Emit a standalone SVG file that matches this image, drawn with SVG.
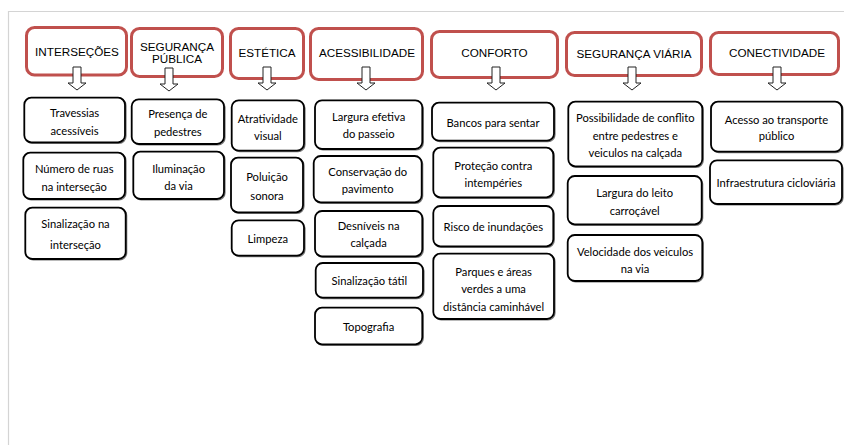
<svg xmlns="http://www.w3.org/2000/svg" xmlns:xlink="http://www.w3.org/1999/xlink" width="844" height="445" viewBox="0 0 844 445">
<style>
.hdr{fill:#fff;stroke:#c0504d;stroke-width:3}
.box{fill:#fff;stroke:#000;stroke-width:1.8}
.shd{fill:none;stroke:#777;stroke-width:1.2}
.ht{font-family:"Liberation Sans",Arial,sans-serif;font-size:11.7px;fill:#000;text-anchor:middle}
.bt{font-family:"Lato","Liberation Sans",sans-serif;font-size:11.2px;fill:#000;text-anchor:middle}
.arr{fill:#fff;stroke:#222;stroke-width:1}
.frame{stroke:#d4d4d4;stroke-width:1.2;fill:none}
</style>
<defs>
<path id="arrow" class="arr" d="M-4,67 H4 V83 H9 L0,90 L-9,83 H-4 Z"/>
</defs>
<rect width="844" height="445" fill="#fff"/>
<path class="frame" d="M8.5,445 V11.5 H844"/>

<g id="h-intersecoes"><rect class="hdr" x="26.5" y="27.5" width="100" height="47.5" rx="8"/><text class="ht" x="77" y="56">INTERSEÇÕES</text></g>
<g id="h-seguranca-publica"><rect class="hdr" x="131.5" y="28.5" width="91" height="48" rx="8"/><text class="ht" x="177" y="51">SEGURANÇA</text><text class="ht" x="177" y="63">PÚBLICA</text></g>
<g id="h-estetica"><rect class="hdr" x="230.5" y="28.5" width="73" height="50" rx="8"/><text class="ht" x="267" y="57">ESTÉTICA</text></g>
<g id="h-acessibilidade"><rect class="hdr" x="310.5" y="28.5" width="112" height="51" rx="8"/><text class="ht" x="367" y="57">ACESSIBILIDADE</text></g>
<g id="h-conforto"><rect class="hdr" x="431.5" y="31.5" width="126" height="46" rx="8"/><text class="ht" x="494.5" y="57">CONFORTO</text></g>
<g id="h-seguranca-viaria"><rect class="hdr" x="566.5" y="32.5" width="135" height="43" rx="8"/><text class="ht" x="634" y="58">SEGURANÇA VIÁRIA</text></g>
<g id="h-conectividade"><rect class="hdr" x="710.5" y="32.5" width="128" height="42" rx="8"/><text class="ht" x="777" y="57">CONECTIVIDADE</text></g>

<g id="connectors">
<use xlink:href="#arrow" x="77"/>
<use xlink:href="#arrow" x="169" y="1"/>
<use xlink:href="#arrow" x="267"/>
<use xlink:href="#arrow" x="366"/>
<use xlink:href="#arrow" x="496"/>
<use xlink:href="#arrow" x="632"/>
<use xlink:href="#arrow" x="777"/>
</g>

<g id="n-travessias"><rect class="shd" x="25.3" y="98.7" width="100.7" height="44.6" rx="7"/><rect class="box" x="24.3" y="97.7" width="100.7" height="44.6" rx="7"/><text class="bt" x="74.6" y="117">Travessias</text><text class="bt" x="74.6" y="134.5">acessíveis</text></g>
<g id="n-numero-ruas"><rect class="shd" x="24.3" y="153.7" width="101.7" height="46.3" rx="7"/><rect class="box" x="23.3" y="152.7" width="101.7" height="46.3" rx="7"/><text class="bt" x="74.2" y="173">Número de ruas</text><text class="bt" x="74.2" y="190.5">na interseção</text></g>
<g id="n-sinalizacao-intersecao"><rect class="shd" x="26.3" y="208.7" width="100.4" height="51.3" rx="7"/><rect class="box" x="25.3" y="207.7" width="100.4" height="51.3" rx="7"/><text class="bt" x="75.5" y="228">Sinalização na</text><text class="bt" x="75.5" y="249">interseção</text></g>

<g id="n-presenca"><rect class="shd" x="132.7" y="100.3" width="92.3" height="44.7" rx="7"/><rect class="box" x="131.7" y="99.3" width="92.3" height="44.7" rx="7"/><text class="bt" x="177.8" y="118">Presença de</text><text class="bt" x="177.8" y="135.5">pedestres</text></g>
<g id="n-iluminacao"><rect class="shd" x="134.3" y="152.7" width="90.7" height="47.3" rx="7"/><rect class="box" x="133.3" y="151.7" width="90.7" height="47.3" rx="7"/><text class="bt" x="178.6" y="173">Iluminação</text><text class="bt" x="178.6" y="189.5">da via</text></g>

<g id="n-atratividade"><rect class="shd" x="232.7" y="101.3" width="72.3" height="50.4" rx="7"/><rect class="box" x="231.7" y="100.3" width="72.3" height="50.4" rx="7"/><text class="bt" x="267.8" y="123">Atratividade</text><text class="bt" x="267.8" y="139.5">visual</text></g>
<g id="n-poluicao"><rect class="shd" x="232" y="158.7" width="72" height="54.6" rx="7"/><rect class="box" x="231" y="157.7" width="72" height="54.6" rx="7"/><text class="bt" x="267" y="181">Poluição</text><text class="bt" x="267" y="199.5">sonora</text></g>
<g id="n-limpeza"><rect class="shd" x="232.7" y="221.3" width="72.3" height="35.4" rx="7"/><rect class="box" x="231.7" y="220.3" width="72.3" height="35.4" rx="7"/><text class="bt" x="267.8" y="243">Limpeza</text></g>

<g id="n-largura-efetiva"><rect class="shd" x="316" y="101.3" width="107.3" height="48.7" rx="7"/><rect class="box" x="315" y="100.3" width="107.3" height="48.7" rx="7"/><text class="bt" x="368.6" y="121">Largura efetiva</text><text class="bt" x="368.6" y="138">do passeio</text></g>
<g id="n-conservacao"><rect class="shd" x="314.7" y="157" width="108" height="46.3" rx="7"/><rect class="box" x="313.7" y="156" width="108" height="46.3" rx="7"/><text class="bt" x="367.7" y="175.5">Conservação do</text><text class="bt" x="367.7" y="193">pavimento</text></g>
<g id="n-desniveis"><rect class="shd" x="316" y="212" width="107.3" height="45.3" rx="7"/><rect class="box" x="315" y="211" width="107.3" height="45.3" rx="7"/><text class="bt" x="368.6" y="229.5">Desníveis na</text><text class="bt" x="368.6" y="246.5">calçada</text></g>
<g id="n-sinalizacao-tatil"><rect class="shd" x="316.7" y="264" width="107.3" height="34.7" rx="7"/><rect class="box" x="315.7" y="263" width="107.3" height="34.7" rx="7"/><text class="bt" x="369.3" y="284.5">Sinalização tátil</text></g>
<g id="n-topografia"><rect class="shd" x="316" y="308.7" width="107.3" height="36.6" rx="7"/><rect class="box" x="315" y="307.7" width="107.3" height="36.6" rx="7"/><text class="bt" x="368.6" y="330.5">Topografia</text></g>

<g id="n-bancos"><rect class="shd" x="433" y="103.7" width="122" height="38" rx="7"/><rect class="box" x="432" y="102.7" width="122" height="38" rx="7"/><text class="bt" x="493" y="126.5">Bancos para sentar</text></g>
<g id="n-protecao"><rect class="shd" x="434.3" y="148.7" width="120" height="49.6" rx="7"/><rect class="box" x="433.3" y="147.7" width="120" height="49.6" rx="7"/><text class="bt" x="493.3" y="170">Proteção contra</text><text class="bt" x="493.3" y="186.5">intempéries</text></g>
<g id="n-risco"><rect class="shd" x="434.3" y="207" width="120" height="40.3" rx="7"/><rect class="box" x="433.3" y="206" width="120" height="40.3" rx="7"/><text class="bt" x="493.3" y="230.5">Risco de inundações</text></g>
<g id="n-parques"><rect class="shd" x="434.3" y="254.7" width="120.7" height="65.3" rx="7"/><rect class="box" x="433.3" y="253.7" width="120.7" height="65.3" rx="7"/><text class="bt" x="493.6" y="275.5">Parques e áreas</text><text class="bt" x="493.6" y="293">verdes a uma</text><text class="bt" x="493.6" y="310.5">distância caminhável</text></g>

<g id="n-conflito"><rect class="shd" x="569.3" y="102.7" width="134" height="64.6" rx="7"/><rect class="box" x="568.3" y="101.7" width="134" height="64.6" rx="7"/><text class="bt" x="635.3" y="122">Possibilidade de conflito</text><text class="bt" x="635.3" y="140">entre pedestres e</text><text class="bt" x="635.3" y="156.5">veiculos na calçada</text></g>
<g id="n-largura-leito"><rect class="shd" x="568.7" y="177" width="134" height="48.3" rx="7"/><rect class="box" x="567.7" y="176" width="134" height="48.3" rx="7"/><text class="bt" x="634.7" y="197">Largura do leito</text><text class="bt" x="634.7" y="214.5">carroçável</text></g>
<g id="n-velocidade"><rect class="shd" x="568.7" y="236" width="134.6" height="46" rx="7"/><rect class="box" x="567.7" y="235" width="134.6" height="46" rx="7"/><text class="bt" x="635" y="255.5">Velocidade dos veiculos</text><text class="bt" x="635" y="273">na via</text></g>

<g id="n-acesso"><rect class="shd" x="712" y="102.7" width="131" height="50" rx="7"/><rect class="box" x="711" y="101.7" width="131" height="50" rx="7"/><text class="bt" x="776.5" y="124">Acesso ao transporte</text><text class="bt" x="776.5" y="140">público</text></g>
<g id="n-ciclovia"><rect class="shd" x="711" y="161.3" width="132" height="43.7" rx="7"/><rect class="box" x="710" y="160.3" width="132" height="43.7" rx="7"/><text class="bt" x="776" y="187">Infraestrutura cicloviária</text></g>
</svg>
